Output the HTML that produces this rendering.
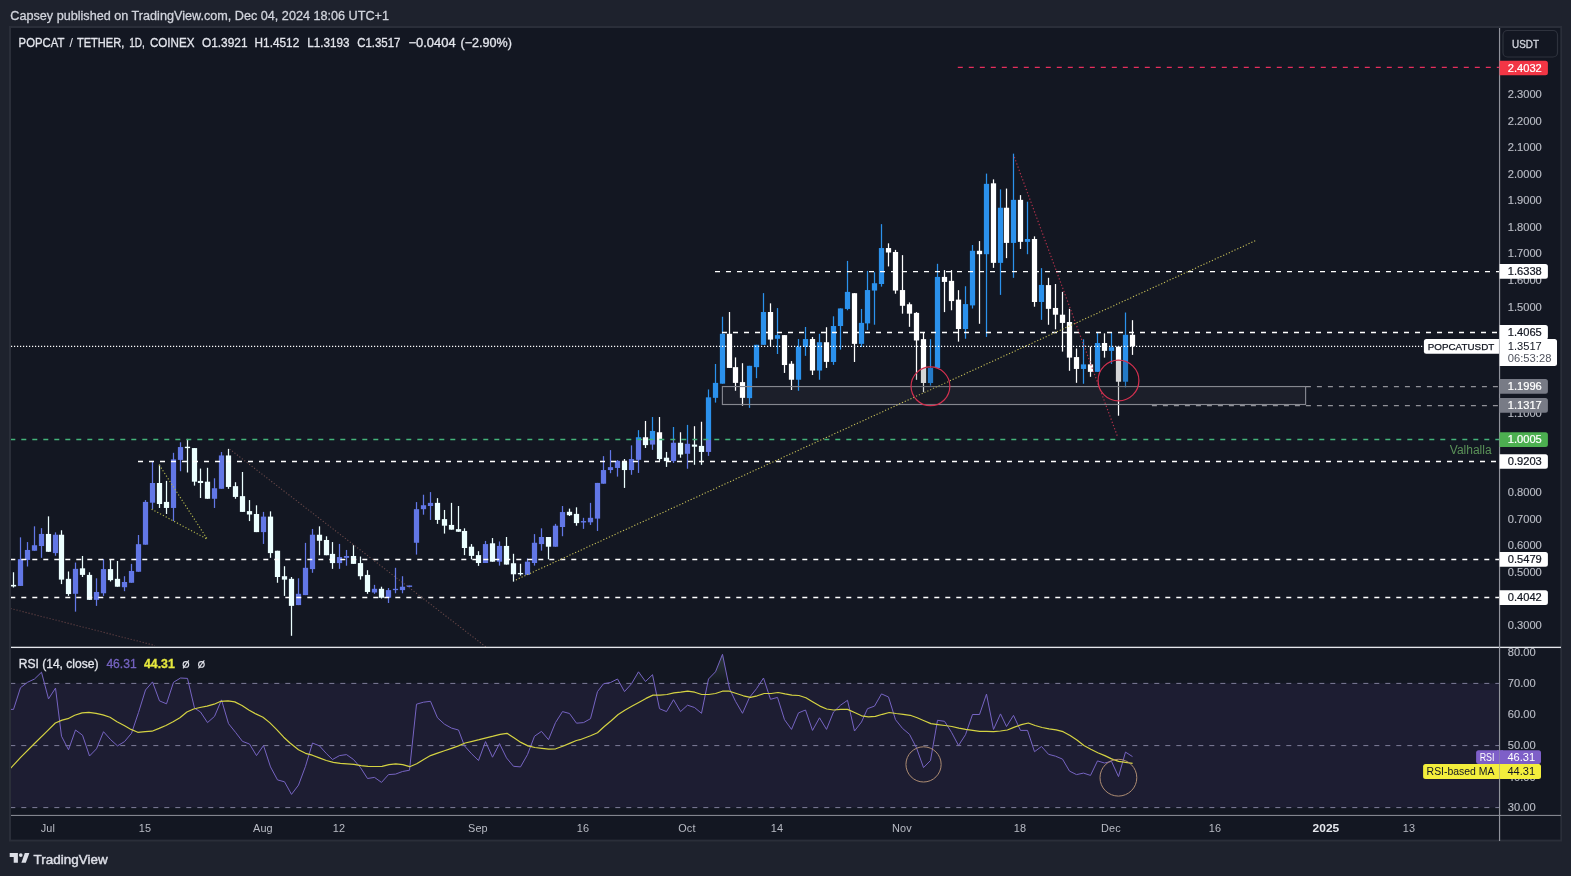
<!DOCTYPE html>
<html><head><meta charset="utf-8"><title>POPCAT / TETHER</title>
<style>html,body{margin:0;padding:0;background:#1e222d;}body{width:1571px;height:876px;overflow:hidden;}svg{display:block;font-family:"Liberation Sans",sans-serif;will-change:transform;}text{white-space:pre;}</style></head><body>
<svg width="1571" height="876" viewBox="0 0 1571 876">
<defs>
<clipPath id="cA"><rect x="11" y="28" width="1488" height="412.00"/></clipPath>
<clipPath id="cB"><rect x="11" y="440.00" width="1488" height="207.00"/></clipPath>
<clipPath id="cMain"><rect x="11" y="28" width="1488.5" height="619"/></clipPath>
<clipPath id="cRsi"><rect x="11" y="648" width="1488.5" height="167"/></clipPath>
</defs>
<rect x="0" y="0" width="1571" height="876" fill="#1e222d"/>
<rect x="9" y="26" width="1553" height="815.5" fill="#2a2e39"/>
<rect x="11" y="28" width="1549.3" height="811.6" fill="#131722"/>
<text x="10.3" y="20" font-size="12.3" fill="#d1d4dc" stroke="#d1d4dc" stroke-width="0.28" textLength="378.7" lengthAdjust="spacingAndGlyphs">Capsey published on TradingView.com, Dec 04, 2024 18:06 UTC+1</text>
<g clip-path="url(#cMain)">
<rect x="722.4" y="386.4" width="583.2" height="18.3" fill="#1c1f2a"/>
<g clip-path="url(#cA)">
<rect x="12.88" y="572.27" width="1.24" height="15.23" fill="#ffffff"/>
<rect x="10.88" y="584.87" width="5.24" height="1.58" fill="#ffffff"/>
<rect x="19.88" y="537.35" width="1.24" height="48.57" fill="#2b91ec"/>
<rect x="17.88" y="559.14" width="5.24" height="26.78" fill="#2b91ec"/>
<rect x="26.88" y="542.08" width="1.24" height="24.42" fill="#2b91ec"/>
<rect x="24.88" y="549.96" width="5.24" height="9.98" fill="#2b91ec"/>
<rect x="33.88" y="526.33" width="1.24" height="24.42" fill="#2b91ec"/>
<rect x="31.88" y="545.23" width="5.24" height="5.51" fill="#2b91ec"/>
<rect x="40.88" y="528.16" width="1.24" height="29.67" fill="#2b91ec"/>
<rect x="38.88" y="533.94" width="5.24" height="12.08" fill="#2b91ec"/>
<rect x="47.88" y="516.35" width="1.24" height="35.44" fill="#ffffff"/>
<rect x="45.88" y="533.94" width="5.24" height="17.85" fill="#ffffff"/>
<rect x="54.88" y="532.37" width="1.24" height="23.37" fill="#2b91ec"/>
<rect x="52.88" y="534.73" width="5.24" height="18.38" fill="#2b91ec"/>
<rect x="60.88" y="530.27" width="1.24" height="53.82" fill="#ffffff"/>
<rect x="58.88" y="534.73" width="5.24" height="44.89" fill="#ffffff"/>
<rect x="67.88" y="571.48" width="1.24" height="24.42" fill="#ffffff"/>
<rect x="65.88" y="578.83" width="5.24" height="15.23" fill="#ffffff"/>
<rect x="74.88" y="562.56" width="1.24" height="49.09" fill="#2b91ec"/>
<rect x="72.88" y="568.86" width="5.24" height="24.94" fill="#2b91ec"/>
<rect x="81.88" y="555.99" width="1.24" height="21.00" fill="#ffffff"/>
<rect x="79.88" y="568.33" width="5.24" height="6.56" fill="#ffffff"/>
<rect x="88.88" y="572.27" width="1.24" height="27.57" fill="#ffffff"/>
<rect x="86.88" y="574.90" width="5.24" height="24.94" fill="#ffffff"/>
<rect x="95.88" y="578.31" width="1.24" height="27.57" fill="#2b91ec"/>
<rect x="93.88" y="591.96" width="5.24" height="7.88" fill="#2b91ec"/>
<rect x="102.88" y="559.14" width="1.24" height="36.76" fill="#2b91ec"/>
<rect x="100.88" y="569.12" width="5.24" height="24.15" fill="#2b91ec"/>
<rect x="109.88" y="559.14" width="1.24" height="22.32" fill="#ffffff"/>
<rect x="107.88" y="569.12" width="5.24" height="11.03" fill="#ffffff"/>
<rect x="116.88" y="560.98" width="1.24" height="25.73" fill="#ffffff"/>
<rect x="114.88" y="578.83" width="5.24" height="7.88" fill="#ffffff"/>
<rect x="123.88" y="576.21" width="1.24" height="14.96" fill="#2b91ec"/>
<rect x="121.88" y="581.98" width="5.24" height="5.25" fill="#2b91ec"/>
<rect x="130.88" y="563.87" width="1.24" height="18.90" fill="#2b91ec"/>
<rect x="128.88" y="570.96" width="5.24" height="11.81" fill="#2b91ec"/>
<rect x="137.88" y="534.99" width="1.24" height="36.76" fill="#2b91ec"/>
<rect x="135.88" y="544.18" width="5.24" height="27.57" fill="#2b91ec"/>
<rect x="144.88" y="500.07" width="1.24" height="44.63" fill="#2b91ec"/>
<rect x="142.88" y="501.91" width="5.24" height="42.79" fill="#2b91ec"/>
<rect x="151.88" y="461.48" width="1.24" height="47.78" fill="#2b91ec"/>
<rect x="149.88" y="483.01" width="5.24" height="19.69" fill="#2b91ec"/>
<rect x="158.88" y="464.63" width="1.24" height="43.32" fill="#ffffff"/>
<rect x="156.88" y="483.01" width="5.24" height="21.00" fill="#ffffff"/>
<rect x="165.88" y="480.91" width="1.24" height="33.08" fill="#ffffff"/>
<rect x="163.88" y="501.91" width="5.24" height="6.04" fill="#ffffff"/>
<rect x="172.88" y="452.82" width="1.24" height="68.26" fill="#2b91ec"/>
<rect x="170.88" y="459.38" width="5.24" height="48.57" fill="#2b91ec"/>
<rect x="179.88" y="442.32" width="1.24" height="28.88" fill="#2b91ec"/>
<rect x="177.88" y="447.04" width="5.24" height="12.86" fill="#2b91ec"/>
<rect x="186.88" y="438.90" width="1.24" height="33.60" fill="#ffffff"/>
<rect x="184.88" y="446.74" width="5.24" height="1.40" fill="#ffffff"/>
<rect x="193.88" y="448.09" width="1.24" height="37.54" fill="#ffffff"/>
<rect x="191.88" y="448.09" width="5.24" height="33.60" fill="#ffffff"/>
<rect x="199.88" y="468.57" width="1.24" height="29.40" fill="#ffffff"/>
<rect x="197.88" y="480.91" width="5.24" height="2.10" fill="#ffffff"/>
<rect x="206.88" y="467.78" width="1.24" height="30.98" fill="#ffffff"/>
<rect x="204.88" y="481.70" width="5.24" height="17.06" fill="#ffffff"/>
<rect x="213.88" y="478.28" width="1.24" height="29.67" fill="#2b91ec"/>
<rect x="211.88" y="488.26" width="5.24" height="10.50" fill="#2b91ec"/>
<rect x="220.88" y="452.03" width="1.24" height="36.76" fill="#2b91ec"/>
<rect x="218.88" y="455.44" width="5.24" height="33.34" fill="#2b91ec"/>
<rect x="227.88" y="448.88" width="1.24" height="39.91" fill="#ffffff"/>
<rect x="225.88" y="455.44" width="5.24" height="31.50" fill="#ffffff"/>
<rect x="234.88" y="482.22" width="1.24" height="16.54" fill="#ffffff"/>
<rect x="232.88" y="486.16" width="5.24" height="10.76" fill="#ffffff"/>
<rect x="241.88" y="471.98" width="1.24" height="39.91" fill="#ffffff"/>
<rect x="239.88" y="496.14" width="5.24" height="15.75" fill="#ffffff"/>
<rect x="248.88" y="500.07" width="1.24" height="21.00" fill="#ffffff"/>
<rect x="246.88" y="511.10" width="5.24" height="3.41" fill="#ffffff"/>
<rect x="255.88" y="505.32" width="1.24" height="26.78" fill="#ffffff"/>
<rect x="253.88" y="513.99" width="5.24" height="18.11" fill="#ffffff"/>
<rect x="262.88" y="511.89" width="1.24" height="32.03" fill="#2b91ec"/>
<rect x="260.88" y="516.61" width="5.24" height="15.49" fill="#2b91ec"/>
<rect x="269.88" y="511.36" width="1.24" height="46.47" fill="#ffffff"/>
<rect x="267.88" y="516.61" width="5.24" height="36.49" fill="#ffffff"/>
<rect x="276.88" y="550.74" width="1.24" height="32.03" fill="#ffffff"/>
<rect x="274.88" y="550.74" width="5.24" height="26.25" fill="#ffffff"/>
<rect x="283.88" y="566.23" width="1.24" height="29.67" fill="#ffffff"/>
<rect x="281.88" y="576.21" width="5.24" height="3.41" fill="#ffffff"/>
<rect x="290.88" y="577.00" width="1.24" height="58.81" fill="#ffffff"/>
<rect x="288.88" y="578.83" width="5.24" height="27.04" fill="#ffffff"/>
<rect x="297.88" y="578.31" width="1.24" height="26.78" fill="#2b91ec"/>
<rect x="295.88" y="593.80" width="5.24" height="11.29" fill="#2b91ec"/>
<rect x="304.88" y="542.87" width="1.24" height="52.24" fill="#2b91ec"/>
<rect x="302.88" y="567.81" width="5.24" height="27.30" fill="#2b91ec"/>
<rect x="311.88" y="528.95" width="1.24" height="43.84" fill="#2b91ec"/>
<rect x="309.88" y="534.73" width="5.24" height="34.39" fill="#2b91ec"/>
<rect x="318.88" y="526.33" width="1.24" height="28.88" fill="#ffffff"/>
<rect x="316.88" y="534.73" width="5.24" height="6.04" fill="#ffffff"/>
<rect x="325.88" y="536.30" width="1.24" height="18.90" fill="#ffffff"/>
<rect x="323.88" y="539.98" width="5.24" height="15.23" fill="#ffffff"/>
<rect x="331.88" y="542.08" width="1.24" height="26.78" fill="#ffffff"/>
<rect x="329.88" y="553.89" width="5.24" height="9.19" fill="#ffffff"/>
<rect x="338.88" y="543.92" width="1.24" height="24.94" fill="#2b91ec"/>
<rect x="336.88" y="557.04" width="5.24" height="6.04" fill="#2b91ec"/>
<rect x="345.88" y="549.96" width="1.24" height="15.75" fill="#2b91ec"/>
<rect x="343.88" y="555.99" width="5.24" height="1.84" fill="#2b91ec"/>
<rect x="352.88" y="545.23" width="1.24" height="18.64" fill="#ffffff"/>
<rect x="350.88" y="555.99" width="5.24" height="7.88" fill="#ffffff"/>
<rect x="359.88" y="556.52" width="1.24" height="23.10" fill="#ffffff"/>
<rect x="357.88" y="563.08" width="5.24" height="13.13" fill="#ffffff"/>
<rect x="366.88" y="570.17" width="1.24" height="23.63" fill="#ffffff"/>
<rect x="364.88" y="574.90" width="5.24" height="17.06" fill="#ffffff"/>
<rect x="373.88" y="584.87" width="1.24" height="8.93" fill="#2b91ec"/>
<rect x="371.88" y="588.81" width="5.24" height="3.68" fill="#2b91ec"/>
<rect x="380.88" y="586.71" width="1.24" height="11.81" fill="#ffffff"/>
<rect x="378.88" y="588.81" width="5.24" height="8.93" fill="#ffffff"/>
<rect x="387.88" y="588.02" width="1.24" height="14.96" fill="#2b91ec"/>
<rect x="385.88" y="590.12" width="5.24" height="7.61" fill="#2b91ec"/>
<rect x="394.88" y="567.81" width="1.24" height="25.47" fill="#2b91ec"/>
<rect x="392.88" y="588.81" width="5.24" height="1.31" fill="#2b91ec"/>
<rect x="401.88" y="576.21" width="1.24" height="17.06" fill="#2b91ec"/>
<rect x="399.88" y="586.71" width="5.24" height="3.41" fill="#2b91ec"/>
<rect x="408.88" y="585.66" width="1.24" height="1.05" fill="#2b91ec"/>
<rect x="406.88" y="585.49" width="5.24" height="1.40" fill="#2b91ec"/>
<rect x="415.88" y="502.08" width="1.24" height="52.51" fill="#2b91ec"/>
<rect x="413.88" y="509.17" width="5.24" height="33.60" fill="#2b91ec"/>
<rect x="422.88" y="494.73" width="1.24" height="19.95" fill="#2b91ec"/>
<rect x="420.88" y="505.23" width="5.24" height="3.94" fill="#2b91ec"/>
<rect x="429.88" y="492.10" width="1.24" height="27.83" fill="#2b91ec"/>
<rect x="427.88" y="502.87" width="5.24" height="3.15" fill="#2b91ec"/>
<rect x="436.88" y="498.14" width="1.24" height="25.73" fill="#ffffff"/>
<rect x="434.88" y="502.87" width="5.24" height="17.06" fill="#ffffff"/>
<rect x="443.88" y="509.96" width="1.24" height="23.63" fill="#ffffff"/>
<rect x="441.88" y="519.14" width="5.24" height="6.56" fill="#ffffff"/>
<rect x="450.88" y="502.87" width="1.24" height="26.78" fill="#ffffff"/>
<rect x="448.88" y="524.92" width="5.24" height="4.73" fill="#ffffff"/>
<rect x="457.88" y="506.02" width="1.24" height="25.73" fill="#ffffff"/>
<rect x="455.88" y="529.12" width="5.24" height="2.63" fill="#ffffff"/>
<rect x="463.88" y="528.33" width="1.24" height="26.78" fill="#ffffff"/>
<rect x="461.88" y="530.96" width="5.24" height="17.06" fill="#ffffff"/>
<rect x="470.88" y="544.09" width="1.24" height="15.23" fill="#ffffff"/>
<rect x="468.88" y="546.71" width="5.24" height="9.19" fill="#ffffff"/>
<rect x="477.88" y="551.17" width="1.24" height="14.70" fill="#ffffff"/>
<rect x="475.88" y="555.11" width="5.24" height="7.88" fill="#ffffff"/>
<rect x="484.88" y="540.93" width="1.24" height="22.05" fill="#2b91ec"/>
<rect x="482.88" y="544.09" width="5.24" height="18.90" fill="#2b91ec"/>
<rect x="491.88" y="538.05" width="1.24" height="23.63" fill="#ffffff"/>
<rect x="489.88" y="543.30" width="5.24" height="18.38" fill="#ffffff"/>
<rect x="498.88" y="541.46" width="1.24" height="24.15" fill="#2b91ec"/>
<rect x="496.88" y="545.92" width="5.24" height="15.75" fill="#2b91ec"/>
<rect x="505.88" y="537.00" width="1.24" height="27.57" fill="#ffffff"/>
<rect x="503.88" y="545.92" width="5.24" height="18.64" fill="#ffffff"/>
<rect x="512.88" y="553.80" width="1.24" height="27.83" fill="#ffffff"/>
<rect x="510.88" y="563.25" width="5.24" height="11.03" fill="#ffffff"/>
<rect x="519.88" y="563.78" width="1.24" height="11.81" fill="#ffffff"/>
<rect x="517.88" y="572.96" width="5.24" height="1.31" fill="#ffffff"/>
<rect x="526.88" y="558.52" width="1.24" height="16.28" fill="#2b91ec"/>
<rect x="524.88" y="561.67" width="5.24" height="13.13" fill="#2b91ec"/>
<rect x="533.88" y="534.11" width="1.24" height="31.50" fill="#2b91ec"/>
<rect x="531.88" y="542.77" width="5.24" height="20.22" fill="#2b91ec"/>
<rect x="540.88" y="528.33" width="1.24" height="22.32" fill="#2b91ec"/>
<rect x="538.88" y="537.00" width="5.24" height="7.09" fill="#2b91ec"/>
<rect x="547.88" y="537.00" width="1.24" height="22.32" fill="#ffffff"/>
<rect x="545.88" y="537.00" width="5.24" height="9.71" fill="#ffffff"/>
<rect x="554.88" y="523.87" width="1.24" height="22.84" fill="#2b91ec"/>
<rect x="552.88" y="525.71" width="5.24" height="21.00" fill="#2b91ec"/>
<rect x="561.88" y="506.02" width="1.24" height="30.19" fill="#2b91ec"/>
<rect x="559.88" y="512.06" width="5.24" height="14.96" fill="#2b91ec"/>
<rect x="568.88" y="508.64" width="1.24" height="7.35" fill="#ffffff"/>
<rect x="566.88" y="511.79" width="5.24" height="3.41" fill="#ffffff"/>
<rect x="575.88" y="507.33" width="1.24" height="18.38" fill="#ffffff"/>
<rect x="573.88" y="513.89" width="5.24" height="9.19" fill="#ffffff"/>
<rect x="582.88" y="517.83" width="1.24" height="11.03" fill="#2b91ec"/>
<rect x="580.88" y="521.07" width="5.24" height="1.40" fill="#2b91ec"/>
<rect x="589.88" y="502.87" width="1.24" height="22.05" fill="#2b91ec"/>
<rect x="587.88" y="517.83" width="5.24" height="4.46" fill="#2b91ec"/>
<rect x="596.88" y="482.91" width="1.24" height="48.04" fill="#2b91ec"/>
<rect x="594.88" y="482.91" width="5.24" height="35.70" fill="#2b91ec"/>
<rect x="602.88" y="456.14" width="1.24" height="27.57" fill="#2b91ec"/>
<rect x="600.88" y="470.05" width="5.24" height="13.65" fill="#2b91ec"/>
<rect x="609.88" y="450.10" width="1.24" height="23.10" fill="#2b91ec"/>
<rect x="607.88" y="467.16" width="5.24" height="2.89" fill="#2b91ec"/>
<rect x="616.88" y="460.07" width="1.24" height="16.54" fill="#2b91ec"/>
<rect x="614.88" y="460.86" width="5.24" height="7.09" fill="#2b91ec"/>
<rect x="623.88" y="459.03" width="1.24" height="28.88" fill="#ffffff"/>
<rect x="621.88" y="461.65" width="5.24" height="8.40" fill="#ffffff"/>
<rect x="630.88" y="445.37" width="1.24" height="29.40" fill="#2b91ec"/>
<rect x="628.88" y="459.03" width="5.24" height="11.03" fill="#2b91ec"/>
<rect x="637.88" y="430.15" width="1.24" height="42.79" fill="#2b91ec"/>
<rect x="635.88" y="437.24" width="5.24" height="22.58" fill="#2b91ec"/>
<rect x="644.88" y="420.96" width="1.24" height="27.04" fill="#ffffff"/>
<rect x="642.88" y="437.24" width="5.24" height="7.88" fill="#ffffff"/>
<rect x="651.88" y="417.02" width="1.24" height="32.82" fill="#2b91ec"/>
<rect x="649.88" y="430.93" width="5.24" height="13.65" fill="#2b91ec"/>
<rect x="658.88" y="417.02" width="1.24" height="43.84" fill="#ffffff"/>
<rect x="656.88" y="432.25" width="5.24" height="26.78" fill="#ffffff"/>
<rect x="665.88" y="451.94" width="1.24" height="14.96" fill="#ffffff"/>
<rect x="663.88" y="457.71" width="5.24" height="3.41" fill="#ffffff"/>
<rect x="672.88" y="427.00" width="1.24" height="35.97" fill="#2b91ec"/>
<rect x="670.88" y="442.75" width="5.24" height="18.38" fill="#2b91ec"/>
<rect x="679.88" y="432.25" width="1.24" height="25.47" fill="#ffffff"/>
<rect x="677.88" y="442.75" width="5.24" height="11.81" fill="#ffffff"/>
<rect x="686.88" y="424.90" width="1.24" height="43.84" fill="#2b91ec"/>
<rect x="684.88" y="443.80" width="5.24" height="9.98" fill="#2b91ec"/>
<rect x="693.88" y="426.21" width="1.24" height="38.59" fill="#ffffff"/>
<rect x="691.88" y="444.59" width="5.24" height="2.10" fill="#ffffff"/>
<rect x="700.88" y="421.75" width="1.24" height="43.06" fill="#ffffff"/>
<rect x="698.88" y="445.90" width="5.24" height="6.04" fill="#ffffff"/>
<rect x="707.88" y="389.45" width="1.24" height="66.42" fill="#2b91ec"/>
<rect x="705.88" y="397.33" width="5.24" height="54.61" fill="#2b91ec"/>
<rect x="714.88" y="363.99" width="1.24" height="38.59" fill="#2b91ec"/>
<rect x="712.88" y="382.89" width="5.24" height="14.96" fill="#2b91ec"/>
<rect x="721.88" y="316.73" width="1.24" height="66.95" fill="#2b91ec"/>
<rect x="719.88" y="333.80" width="5.24" height="49.88" fill="#2b91ec"/>
<rect x="728.88" y="312.01" width="1.24" height="55.92" fill="#ffffff"/>
<rect x="726.88" y="333.80" width="5.24" height="34.13" fill="#ffffff"/>
<rect x="734.88" y="357.42" width="1.24" height="33.34" fill="#ffffff"/>
<rect x="732.88" y="367.14" width="5.24" height="15.75" fill="#ffffff"/>
<rect x="741.88" y="363.20" width="1.24" height="42.53" fill="#ffffff"/>
<rect x="739.88" y="382.10" width="5.24" height="15.75" fill="#ffffff"/>
<rect x="748.88" y="365.83" width="1.24" height="42.01" fill="#2b91ec"/>
<rect x="746.88" y="365.83" width="5.24" height="32.29" fill="#2b91ec"/>
<rect x="755.88" y="344.82" width="1.24" height="33.34" fill="#2b91ec"/>
<rect x="753.88" y="344.82" width="5.24" height="22.32" fill="#2b91ec"/>
<rect x="762.88" y="293.10" width="1.24" height="51.72" fill="#2b91ec"/>
<rect x="760.88" y="312.01" width="5.24" height="32.82" fill="#2b91ec"/>
<rect x="769.88" y="303.34" width="1.24" height="42.79" fill="#ffffff"/>
<rect x="767.88" y="312.01" width="5.24" height="27.57" fill="#ffffff"/>
<rect x="776.88" y="308.07" width="1.24" height="45.94" fill="#2b91ec"/>
<rect x="774.88" y="335.11" width="5.24" height="3.68" fill="#2b91ec"/>
<rect x="783.88" y="335.11" width="1.24" height="37.81" fill="#ffffff"/>
<rect x="781.88" y="335.11" width="5.24" height="29.93" fill="#ffffff"/>
<rect x="790.88" y="361.10" width="1.24" height="28.88" fill="#ffffff"/>
<rect x="788.88" y="363.73" width="5.24" height="16.01" fill="#ffffff"/>
<rect x="797.88" y="339.05" width="1.24" height="51.72" fill="#2b91ec"/>
<rect x="795.88" y="346.66" width="5.24" height="33.08" fill="#2b91ec"/>
<rect x="804.88" y="326.97" width="1.24" height="28.88" fill="#2b91ec"/>
<rect x="802.88" y="339.05" width="5.24" height="7.88" fill="#2b91ec"/>
<rect x="811.88" y="336.95" width="1.24" height="38.07" fill="#ffffff"/>
<rect x="809.88" y="339.05" width="5.24" height="31.50" fill="#ffffff"/>
<rect x="818.88" y="333.80" width="1.24" height="45.94" fill="#2b91ec"/>
<rect x="816.88" y="342.20" width="5.24" height="28.35" fill="#2b91ec"/>
<rect x="825.88" y="327.23" width="1.24" height="40.69" fill="#ffffff"/>
<rect x="823.88" y="342.20" width="5.24" height="19.69" fill="#ffffff"/>
<rect x="832.88" y="316.30" width="1.24" height="48.57" fill="#2b91ec"/>
<rect x="830.88" y="326.02" width="5.24" height="35.97" fill="#2b91ec"/>
<rect x="839.88" y="308.43" width="1.24" height="41.22" fill="#2b91ec"/>
<rect x="837.88" y="308.43" width="5.24" height="17.59" fill="#2b91ec"/>
<rect x="846.88" y="260.91" width="1.24" height="49.36" fill="#2b91ec"/>
<rect x="844.88" y="291.89" width="5.24" height="17.06" fill="#2b91ec"/>
<rect x="853.88" y="293.20" width="1.24" height="68.78" fill="#ffffff"/>
<rect x="851.88" y="293.20" width="5.24" height="50.67" fill="#ffffff"/>
<rect x="860.88" y="308.95" width="1.24" height="38.07" fill="#2b91ec"/>
<rect x="858.88" y="322.87" width="5.24" height="21.00" fill="#2b91ec"/>
<rect x="866.88" y="270.88" width="1.24" height="59.07" fill="#2b91ec"/>
<rect x="864.88" y="290.05" width="5.24" height="33.34" fill="#2b91ec"/>
<rect x="873.88" y="272.20" width="1.24" height="52.51" fill="#2b91ec"/>
<rect x="871.88" y="283.22" width="5.24" height="7.35" fill="#2b91ec"/>
<rect x="880.88" y="224.15" width="1.24" height="62.48" fill="#2b91ec"/>
<rect x="878.88" y="248.04" width="5.24" height="35.97" fill="#2b91ec"/>
<rect x="887.88" y="243.32" width="1.24" height="23.10" fill="#ffffff"/>
<rect x="885.88" y="248.04" width="5.24" height="4.46" fill="#ffffff"/>
<rect x="894.88" y="249.88" width="1.24" height="43.84" fill="#ffffff"/>
<rect x="892.88" y="251.98" width="5.24" height="38.59" fill="#ffffff"/>
<rect x="901.88" y="255.13" width="1.24" height="58.55" fill="#ffffff"/>
<rect x="899.88" y="290.05" width="5.24" height="15.75" fill="#ffffff"/>
<rect x="908.88" y="302.39" width="1.24" height="24.42" fill="#ffffff"/>
<rect x="906.88" y="304.23" width="5.24" height="9.45" fill="#ffffff"/>
<rect x="915.88" y="312.10" width="1.24" height="67.73" fill="#ffffff"/>
<rect x="913.88" y="312.89" width="5.24" height="27.57" fill="#ffffff"/>
<rect x="922.88" y="332.58" width="1.24" height="59.60" fill="#ffffff"/>
<rect x="920.88" y="339.14" width="5.24" height="43.84" fill="#ffffff"/>
<rect x="929.88" y="339.14" width="1.24" height="46.47" fill="#2b91ec"/>
<rect x="927.88" y="368.02" width="5.24" height="14.96" fill="#2b91ec"/>
<rect x="936.88" y="263.80" width="1.24" height="104.23" fill="#2b91ec"/>
<rect x="934.88" y="276.92" width="5.24" height="91.10" fill="#2b91ec"/>
<rect x="943.88" y="270.10" width="1.24" height="42.01" fill="#ffffff"/>
<rect x="941.88" y="276.92" width="5.24" height="4.99" fill="#ffffff"/>
<rect x="950.88" y="270.10" width="1.24" height="40.17" fill="#ffffff"/>
<rect x="948.88" y="280.86" width="5.24" height="20.22" fill="#ffffff"/>
<rect x="957.88" y="290.17" width="1.24" height="51.46" fill="#ffffff"/>
<rect x="955.88" y="299.62" width="5.24" height="29.40" fill="#ffffff"/>
<rect x="964.88" y="286.23" width="1.24" height="52.51" fill="#2b91ec"/>
<rect x="962.88" y="304.09" width="5.24" height="24.94" fill="#2b91ec"/>
<rect x="971.88" y="245.01" width="1.24" height="63.53" fill="#2b91ec"/>
<rect x="969.88" y="250.79" width="5.24" height="54.61" fill="#2b91ec"/>
<rect x="978.88" y="241.08" width="1.24" height="82.70" fill="#ffffff"/>
<rect x="976.88" y="250.79" width="5.24" height="3.41" fill="#ffffff"/>
<rect x="985.88" y="173.60" width="1.24" height="163.30" fill="#2b91ec"/>
<rect x="983.88" y="183.84" width="5.24" height="70.36" fill="#2b91ec"/>
<rect x="992.88" y="179.38" width="1.24" height="88.47" fill="#ffffff"/>
<rect x="990.88" y="183.32" width="5.24" height="79.55" fill="#ffffff"/>
<rect x="999.88" y="189.36" width="1.24" height="105.54" fill="#2b91ec"/>
<rect x="997.88" y="207.73" width="5.24" height="55.13" fill="#2b91ec"/>
<rect x="1005.88" y="188.57" width="1.24" height="69.57" fill="#ffffff"/>
<rect x="1003.88" y="207.73" width="5.24" height="35.18" fill="#ffffff"/>
<rect x="1012.88" y="153.65" width="1.24" height="124.18" fill="#2b91ec"/>
<rect x="1010.88" y="199.86" width="5.24" height="43.06" fill="#2b91ec"/>
<rect x="1019.88" y="195.13" width="1.24" height="53.82" fill="#ffffff"/>
<rect x="1017.88" y="199.86" width="5.24" height="42.01" fill="#ffffff"/>
<rect x="1026.88" y="201.70" width="1.24" height="52.51" fill="#2b91ec"/>
<rect x="1024.88" y="238.98" width="5.24" height="2.89" fill="#2b91ec"/>
<rect x="1033.88" y="236.35" width="1.24" height="70.36" fill="#ffffff"/>
<rect x="1031.88" y="238.98" width="5.24" height="63.01" fill="#ffffff"/>
<rect x="1040.88" y="268.12" width="1.24" height="51.72" fill="#2b91ec"/>
<rect x="1038.88" y="284.92" width="5.24" height="17.06" fill="#2b91ec"/>
<rect x="1047.88" y="277.81" width="1.24" height="46.94" fill="#ffffff"/>
<rect x="1045.88" y="285.11" width="5.24" height="23.74" fill="#ffffff"/>
<rect x="1054.88" y="284.02" width="1.24" height="45.30" fill="#ffffff"/>
<rect x="1052.88" y="307.95" width="5.24" height="6.76" fill="#ffffff"/>
<rect x="1061.88" y="291.87" width="1.24" height="59.73" fill="#ffffff"/>
<rect x="1059.88" y="314.70" width="5.24" height="8.22" fill="#ffffff"/>
<rect x="1068.88" y="308.86" width="1.24" height="61.92" fill="#ffffff"/>
<rect x="1066.88" y="322.01" width="5.24" height="35.62" fill="#ffffff"/>
<rect x="1075.88" y="348.49" width="1.24" height="34.34" fill="#ffffff"/>
<rect x="1073.88" y="357.08" width="5.24" height="11.87" fill="#ffffff"/>
<rect x="1082.88" y="339.36" width="1.24" height="44.38" fill="#2b91ec"/>
<rect x="1080.88" y="364.38" width="5.24" height="4.57" fill="#2b91ec"/>
<rect x="1089.88" y="346.67" width="1.24" height="30.14" fill="#ffffff"/>
<rect x="1087.88" y="364.38" width="5.24" height="7.49" fill="#ffffff"/>
<rect x="1096.88" y="332.97" width="1.24" height="38.90" fill="#2b91ec"/>
<rect x="1094.88" y="343.01" width="5.24" height="28.86" fill="#2b91ec"/>
<rect x="1103.88" y="333.33" width="1.24" height="24.29" fill="#ffffff"/>
<rect x="1101.88" y="343.01" width="5.24" height="7.85" fill="#ffffff"/>
<rect x="1110.88" y="332.05" width="1.24" height="31.96" fill="#2b91ec"/>
<rect x="1108.88" y="347.21" width="5.24" height="3.65" fill="#2b91ec"/>
<rect x="1117.88" y="346.67" width="1.24" height="69.04" fill="#ffffff"/>
<rect x="1115.88" y="346.67" width="5.24" height="35.07" fill="#ffffff"/>
<rect x="1124.88" y="312.51" width="1.24" height="74.89" fill="#2b91ec"/>
<rect x="1122.88" y="334.79" width="5.24" height="46.94" fill="#2b91ec"/>
<rect x="1131.88" y="320.18" width="1.24" height="34.70" fill="#ffffff"/>
<rect x="1129.88" y="334.79" width="5.24" height="11.51" fill="#ffffff"/>
</g>
<g clip-path="url(#cB)">
<rect x="12.88" y="572.27" width="1.24" height="15.23" fill="#ecffff"/>
<rect x="10.88" y="584.87" width="5.24" height="1.58" fill="#ecffff"/>
<rect x="19.88" y="537.35" width="1.24" height="48.57" fill="#6277e6"/>
<rect x="17.88" y="559.14" width="5.24" height="26.78" fill="#6277e6"/>
<rect x="26.88" y="542.08" width="1.24" height="24.42" fill="#6277e6"/>
<rect x="24.88" y="549.96" width="5.24" height="9.98" fill="#6277e6"/>
<rect x="33.88" y="526.33" width="1.24" height="24.42" fill="#6277e6"/>
<rect x="31.88" y="545.23" width="5.24" height="5.51" fill="#6277e6"/>
<rect x="40.88" y="528.16" width="1.24" height="29.67" fill="#6277e6"/>
<rect x="38.88" y="533.94" width="5.24" height="12.08" fill="#6277e6"/>
<rect x="47.88" y="516.35" width="1.24" height="35.44" fill="#ecffff"/>
<rect x="45.88" y="533.94" width="5.24" height="17.85" fill="#ecffff"/>
<rect x="54.88" y="532.37" width="1.24" height="23.37" fill="#6277e6"/>
<rect x="52.88" y="534.73" width="5.24" height="18.38" fill="#6277e6"/>
<rect x="60.88" y="530.27" width="1.24" height="53.82" fill="#ecffff"/>
<rect x="58.88" y="534.73" width="5.24" height="44.89" fill="#ecffff"/>
<rect x="67.88" y="571.48" width="1.24" height="24.42" fill="#ecffff"/>
<rect x="65.88" y="578.83" width="5.24" height="15.23" fill="#ecffff"/>
<rect x="74.88" y="562.56" width="1.24" height="49.09" fill="#6277e6"/>
<rect x="72.88" y="568.86" width="5.24" height="24.94" fill="#6277e6"/>
<rect x="81.88" y="555.99" width="1.24" height="21.00" fill="#ecffff"/>
<rect x="79.88" y="568.33" width="5.24" height="6.56" fill="#ecffff"/>
<rect x="88.88" y="572.27" width="1.24" height="27.57" fill="#ecffff"/>
<rect x="86.88" y="574.90" width="5.24" height="24.94" fill="#ecffff"/>
<rect x="95.88" y="578.31" width="1.24" height="27.57" fill="#6277e6"/>
<rect x="93.88" y="591.96" width="5.24" height="7.88" fill="#6277e6"/>
<rect x="102.88" y="559.14" width="1.24" height="36.76" fill="#6277e6"/>
<rect x="100.88" y="569.12" width="5.24" height="24.15" fill="#6277e6"/>
<rect x="109.88" y="559.14" width="1.24" height="22.32" fill="#ecffff"/>
<rect x="107.88" y="569.12" width="5.24" height="11.03" fill="#ecffff"/>
<rect x="116.88" y="560.98" width="1.24" height="25.73" fill="#ecffff"/>
<rect x="114.88" y="578.83" width="5.24" height="7.88" fill="#ecffff"/>
<rect x="123.88" y="576.21" width="1.24" height="14.96" fill="#6277e6"/>
<rect x="121.88" y="581.98" width="5.24" height="5.25" fill="#6277e6"/>
<rect x="130.88" y="563.87" width="1.24" height="18.90" fill="#6277e6"/>
<rect x="128.88" y="570.96" width="5.24" height="11.81" fill="#6277e6"/>
<rect x="137.88" y="534.99" width="1.24" height="36.76" fill="#6277e6"/>
<rect x="135.88" y="544.18" width="5.24" height="27.57" fill="#6277e6"/>
<rect x="144.88" y="500.07" width="1.24" height="44.63" fill="#6277e6"/>
<rect x="142.88" y="501.91" width="5.24" height="42.79" fill="#6277e6"/>
<rect x="151.88" y="461.48" width="1.24" height="47.78" fill="#6277e6"/>
<rect x="149.88" y="483.01" width="5.24" height="19.69" fill="#6277e6"/>
<rect x="158.88" y="464.63" width="1.24" height="43.32" fill="#ecffff"/>
<rect x="156.88" y="483.01" width="5.24" height="21.00" fill="#ecffff"/>
<rect x="165.88" y="480.91" width="1.24" height="33.08" fill="#ecffff"/>
<rect x="163.88" y="501.91" width="5.24" height="6.04" fill="#ecffff"/>
<rect x="172.88" y="452.82" width="1.24" height="68.26" fill="#6277e6"/>
<rect x="170.88" y="459.38" width="5.24" height="48.57" fill="#6277e6"/>
<rect x="179.88" y="442.32" width="1.24" height="28.88" fill="#6277e6"/>
<rect x="177.88" y="447.04" width="5.24" height="12.86" fill="#6277e6"/>
<rect x="186.88" y="438.90" width="1.24" height="33.60" fill="#ecffff"/>
<rect x="184.88" y="446.74" width="5.24" height="1.40" fill="#ecffff"/>
<rect x="193.88" y="448.09" width="1.24" height="37.54" fill="#ecffff"/>
<rect x="191.88" y="448.09" width="5.24" height="33.60" fill="#ecffff"/>
<rect x="199.88" y="468.57" width="1.24" height="29.40" fill="#ecffff"/>
<rect x="197.88" y="480.91" width="5.24" height="2.10" fill="#ecffff"/>
<rect x="206.88" y="467.78" width="1.24" height="30.98" fill="#ecffff"/>
<rect x="204.88" y="481.70" width="5.24" height="17.06" fill="#ecffff"/>
<rect x="213.88" y="478.28" width="1.24" height="29.67" fill="#6277e6"/>
<rect x="211.88" y="488.26" width="5.24" height="10.50" fill="#6277e6"/>
<rect x="220.88" y="452.03" width="1.24" height="36.76" fill="#6277e6"/>
<rect x="218.88" y="455.44" width="5.24" height="33.34" fill="#6277e6"/>
<rect x="227.88" y="448.88" width="1.24" height="39.91" fill="#ecffff"/>
<rect x="225.88" y="455.44" width="5.24" height="31.50" fill="#ecffff"/>
<rect x="234.88" y="482.22" width="1.24" height="16.54" fill="#ecffff"/>
<rect x="232.88" y="486.16" width="5.24" height="10.76" fill="#ecffff"/>
<rect x="241.88" y="471.98" width="1.24" height="39.91" fill="#ecffff"/>
<rect x="239.88" y="496.14" width="5.24" height="15.75" fill="#ecffff"/>
<rect x="248.88" y="500.07" width="1.24" height="21.00" fill="#ecffff"/>
<rect x="246.88" y="511.10" width="5.24" height="3.41" fill="#ecffff"/>
<rect x="255.88" y="505.32" width="1.24" height="26.78" fill="#ecffff"/>
<rect x="253.88" y="513.99" width="5.24" height="18.11" fill="#ecffff"/>
<rect x="262.88" y="511.89" width="1.24" height="32.03" fill="#6277e6"/>
<rect x="260.88" y="516.61" width="5.24" height="15.49" fill="#6277e6"/>
<rect x="269.88" y="511.36" width="1.24" height="46.47" fill="#ecffff"/>
<rect x="267.88" y="516.61" width="5.24" height="36.49" fill="#ecffff"/>
<rect x="276.88" y="550.74" width="1.24" height="32.03" fill="#ecffff"/>
<rect x="274.88" y="550.74" width="5.24" height="26.25" fill="#ecffff"/>
<rect x="283.88" y="566.23" width="1.24" height="29.67" fill="#ecffff"/>
<rect x="281.88" y="576.21" width="5.24" height="3.41" fill="#ecffff"/>
<rect x="290.88" y="577.00" width="1.24" height="58.81" fill="#ecffff"/>
<rect x="288.88" y="578.83" width="5.24" height="27.04" fill="#ecffff"/>
<rect x="297.88" y="578.31" width="1.24" height="26.78" fill="#6277e6"/>
<rect x="295.88" y="593.80" width="5.24" height="11.29" fill="#6277e6"/>
<rect x="304.88" y="542.87" width="1.24" height="52.24" fill="#6277e6"/>
<rect x="302.88" y="567.81" width="5.24" height="27.30" fill="#6277e6"/>
<rect x="311.88" y="528.95" width="1.24" height="43.84" fill="#6277e6"/>
<rect x="309.88" y="534.73" width="5.24" height="34.39" fill="#6277e6"/>
<rect x="318.88" y="526.33" width="1.24" height="28.88" fill="#ecffff"/>
<rect x="316.88" y="534.73" width="5.24" height="6.04" fill="#ecffff"/>
<rect x="325.88" y="536.30" width="1.24" height="18.90" fill="#ecffff"/>
<rect x="323.88" y="539.98" width="5.24" height="15.23" fill="#ecffff"/>
<rect x="331.88" y="542.08" width="1.24" height="26.78" fill="#ecffff"/>
<rect x="329.88" y="553.89" width="5.24" height="9.19" fill="#ecffff"/>
<rect x="338.88" y="543.92" width="1.24" height="24.94" fill="#6277e6"/>
<rect x="336.88" y="557.04" width="5.24" height="6.04" fill="#6277e6"/>
<rect x="345.88" y="549.96" width="1.24" height="15.75" fill="#6277e6"/>
<rect x="343.88" y="555.99" width="5.24" height="1.84" fill="#6277e6"/>
<rect x="352.88" y="545.23" width="1.24" height="18.64" fill="#ecffff"/>
<rect x="350.88" y="555.99" width="5.24" height="7.88" fill="#ecffff"/>
<rect x="359.88" y="556.52" width="1.24" height="23.10" fill="#ecffff"/>
<rect x="357.88" y="563.08" width="5.24" height="13.13" fill="#ecffff"/>
<rect x="366.88" y="570.17" width="1.24" height="23.63" fill="#ecffff"/>
<rect x="364.88" y="574.90" width="5.24" height="17.06" fill="#ecffff"/>
<rect x="373.88" y="584.87" width="1.24" height="8.93" fill="#6277e6"/>
<rect x="371.88" y="588.81" width="5.24" height="3.68" fill="#6277e6"/>
<rect x="380.88" y="586.71" width="1.24" height="11.81" fill="#ecffff"/>
<rect x="378.88" y="588.81" width="5.24" height="8.93" fill="#ecffff"/>
<rect x="387.88" y="588.02" width="1.24" height="14.96" fill="#6277e6"/>
<rect x="385.88" y="590.12" width="5.24" height="7.61" fill="#6277e6"/>
<rect x="394.88" y="567.81" width="1.24" height="25.47" fill="#6277e6"/>
<rect x="392.88" y="588.81" width="5.24" height="1.31" fill="#6277e6"/>
<rect x="401.88" y="576.21" width="1.24" height="17.06" fill="#6277e6"/>
<rect x="399.88" y="586.71" width="5.24" height="3.41" fill="#6277e6"/>
<rect x="408.88" y="585.66" width="1.24" height="1.05" fill="#6277e6"/>
<rect x="406.88" y="585.49" width="5.24" height="1.40" fill="#6277e6"/>
<rect x="415.88" y="502.08" width="1.24" height="52.51" fill="#6277e6"/>
<rect x="413.88" y="509.17" width="5.24" height="33.60" fill="#6277e6"/>
<rect x="422.88" y="494.73" width="1.24" height="19.95" fill="#6277e6"/>
<rect x="420.88" y="505.23" width="5.24" height="3.94" fill="#6277e6"/>
<rect x="429.88" y="492.10" width="1.24" height="27.83" fill="#6277e6"/>
<rect x="427.88" y="502.87" width="5.24" height="3.15" fill="#6277e6"/>
<rect x="436.88" y="498.14" width="1.24" height="25.73" fill="#ecffff"/>
<rect x="434.88" y="502.87" width="5.24" height="17.06" fill="#ecffff"/>
<rect x="443.88" y="509.96" width="1.24" height="23.63" fill="#ecffff"/>
<rect x="441.88" y="519.14" width="5.24" height="6.56" fill="#ecffff"/>
<rect x="450.88" y="502.87" width="1.24" height="26.78" fill="#ecffff"/>
<rect x="448.88" y="524.92" width="5.24" height="4.73" fill="#ecffff"/>
<rect x="457.88" y="506.02" width="1.24" height="25.73" fill="#ecffff"/>
<rect x="455.88" y="529.12" width="5.24" height="2.63" fill="#ecffff"/>
<rect x="463.88" y="528.33" width="1.24" height="26.78" fill="#ecffff"/>
<rect x="461.88" y="530.96" width="5.24" height="17.06" fill="#ecffff"/>
<rect x="470.88" y="544.09" width="1.24" height="15.23" fill="#ecffff"/>
<rect x="468.88" y="546.71" width="5.24" height="9.19" fill="#ecffff"/>
<rect x="477.88" y="551.17" width="1.24" height="14.70" fill="#ecffff"/>
<rect x="475.88" y="555.11" width="5.24" height="7.88" fill="#ecffff"/>
<rect x="484.88" y="540.93" width="1.24" height="22.05" fill="#6277e6"/>
<rect x="482.88" y="544.09" width="5.24" height="18.90" fill="#6277e6"/>
<rect x="491.88" y="538.05" width="1.24" height="23.63" fill="#ecffff"/>
<rect x="489.88" y="543.30" width="5.24" height="18.38" fill="#ecffff"/>
<rect x="498.88" y="541.46" width="1.24" height="24.15" fill="#6277e6"/>
<rect x="496.88" y="545.92" width="5.24" height="15.75" fill="#6277e6"/>
<rect x="505.88" y="537.00" width="1.24" height="27.57" fill="#ecffff"/>
<rect x="503.88" y="545.92" width="5.24" height="18.64" fill="#ecffff"/>
<rect x="512.88" y="553.80" width="1.24" height="27.83" fill="#ecffff"/>
<rect x="510.88" y="563.25" width="5.24" height="11.03" fill="#ecffff"/>
<rect x="519.88" y="563.78" width="1.24" height="11.81" fill="#ecffff"/>
<rect x="517.88" y="572.96" width="5.24" height="1.31" fill="#ecffff"/>
<rect x="526.88" y="558.52" width="1.24" height="16.28" fill="#6277e6"/>
<rect x="524.88" y="561.67" width="5.24" height="13.13" fill="#6277e6"/>
<rect x="533.88" y="534.11" width="1.24" height="31.50" fill="#6277e6"/>
<rect x="531.88" y="542.77" width="5.24" height="20.22" fill="#6277e6"/>
<rect x="540.88" y="528.33" width="1.24" height="22.32" fill="#6277e6"/>
<rect x="538.88" y="537.00" width="5.24" height="7.09" fill="#6277e6"/>
<rect x="547.88" y="537.00" width="1.24" height="22.32" fill="#ecffff"/>
<rect x="545.88" y="537.00" width="5.24" height="9.71" fill="#ecffff"/>
<rect x="554.88" y="523.87" width="1.24" height="22.84" fill="#6277e6"/>
<rect x="552.88" y="525.71" width="5.24" height="21.00" fill="#6277e6"/>
<rect x="561.88" y="506.02" width="1.24" height="30.19" fill="#6277e6"/>
<rect x="559.88" y="512.06" width="5.24" height="14.96" fill="#6277e6"/>
<rect x="568.88" y="508.64" width="1.24" height="7.35" fill="#ecffff"/>
<rect x="566.88" y="511.79" width="5.24" height="3.41" fill="#ecffff"/>
<rect x="575.88" y="507.33" width="1.24" height="18.38" fill="#ecffff"/>
<rect x="573.88" y="513.89" width="5.24" height="9.19" fill="#ecffff"/>
<rect x="582.88" y="517.83" width="1.24" height="11.03" fill="#6277e6"/>
<rect x="580.88" y="521.07" width="5.24" height="1.40" fill="#6277e6"/>
<rect x="589.88" y="502.87" width="1.24" height="22.05" fill="#6277e6"/>
<rect x="587.88" y="517.83" width="5.24" height="4.46" fill="#6277e6"/>
<rect x="596.88" y="482.91" width="1.24" height="48.04" fill="#6277e6"/>
<rect x="594.88" y="482.91" width="5.24" height="35.70" fill="#6277e6"/>
<rect x="602.88" y="456.14" width="1.24" height="27.57" fill="#6277e6"/>
<rect x="600.88" y="470.05" width="5.24" height="13.65" fill="#6277e6"/>
<rect x="609.88" y="450.10" width="1.24" height="23.10" fill="#6277e6"/>
<rect x="607.88" y="467.16" width="5.24" height="2.89" fill="#6277e6"/>
<rect x="616.88" y="460.07" width="1.24" height="16.54" fill="#6277e6"/>
<rect x="614.88" y="460.86" width="5.24" height="7.09" fill="#6277e6"/>
<rect x="623.88" y="459.03" width="1.24" height="28.88" fill="#ecffff"/>
<rect x="621.88" y="461.65" width="5.24" height="8.40" fill="#ecffff"/>
<rect x="630.88" y="445.37" width="1.24" height="29.40" fill="#6277e6"/>
<rect x="628.88" y="459.03" width="5.24" height="11.03" fill="#6277e6"/>
<rect x="637.88" y="430.15" width="1.24" height="42.79" fill="#6277e6"/>
<rect x="635.88" y="437.24" width="5.24" height="22.58" fill="#6277e6"/>
<rect x="644.88" y="420.96" width="1.24" height="27.04" fill="#ecffff"/>
<rect x="642.88" y="437.24" width="5.24" height="7.88" fill="#ecffff"/>
<rect x="651.88" y="417.02" width="1.24" height="32.82" fill="#6277e6"/>
<rect x="649.88" y="430.93" width="5.24" height="13.65" fill="#6277e6"/>
<rect x="658.88" y="417.02" width="1.24" height="43.84" fill="#ecffff"/>
<rect x="656.88" y="432.25" width="5.24" height="26.78" fill="#ecffff"/>
<rect x="665.88" y="451.94" width="1.24" height="14.96" fill="#ecffff"/>
<rect x="663.88" y="457.71" width="5.24" height="3.41" fill="#ecffff"/>
<rect x="672.88" y="427.00" width="1.24" height="35.97" fill="#6277e6"/>
<rect x="670.88" y="442.75" width="5.24" height="18.38" fill="#6277e6"/>
<rect x="679.88" y="432.25" width="1.24" height="25.47" fill="#ecffff"/>
<rect x="677.88" y="442.75" width="5.24" height="11.81" fill="#ecffff"/>
<rect x="686.88" y="424.90" width="1.24" height="43.84" fill="#6277e6"/>
<rect x="684.88" y="443.80" width="5.24" height="9.98" fill="#6277e6"/>
<rect x="693.88" y="426.21" width="1.24" height="38.59" fill="#ecffff"/>
<rect x="691.88" y="444.59" width="5.24" height="2.10" fill="#ecffff"/>
<rect x="700.88" y="421.75" width="1.24" height="43.06" fill="#ecffff"/>
<rect x="698.88" y="445.90" width="5.24" height="6.04" fill="#ecffff"/>
<rect x="707.88" y="389.45" width="1.24" height="66.42" fill="#6277e6"/>
<rect x="705.88" y="397.33" width="5.24" height="54.61" fill="#6277e6"/>
<rect x="714.88" y="363.99" width="1.24" height="38.59" fill="#6277e6"/>
<rect x="712.88" y="382.89" width="5.24" height="14.96" fill="#6277e6"/>
<rect x="721.88" y="316.73" width="1.24" height="66.95" fill="#6277e6"/>
<rect x="719.88" y="333.80" width="5.24" height="49.88" fill="#6277e6"/>
<rect x="728.88" y="312.01" width="1.24" height="55.92" fill="#ecffff"/>
<rect x="726.88" y="333.80" width="5.24" height="34.13" fill="#ecffff"/>
<rect x="734.88" y="357.42" width="1.24" height="33.34" fill="#ecffff"/>
<rect x="732.88" y="367.14" width="5.24" height="15.75" fill="#ecffff"/>
<rect x="741.88" y="363.20" width="1.24" height="42.53" fill="#ecffff"/>
<rect x="739.88" y="382.10" width="5.24" height="15.75" fill="#ecffff"/>
<rect x="748.88" y="365.83" width="1.24" height="42.01" fill="#6277e6"/>
<rect x="746.88" y="365.83" width="5.24" height="32.29" fill="#6277e6"/>
<rect x="755.88" y="344.82" width="1.24" height="33.34" fill="#6277e6"/>
<rect x="753.88" y="344.82" width="5.24" height="22.32" fill="#6277e6"/>
<rect x="762.88" y="293.10" width="1.24" height="51.72" fill="#6277e6"/>
<rect x="760.88" y="312.01" width="5.24" height="32.82" fill="#6277e6"/>
<rect x="769.88" y="303.34" width="1.24" height="42.79" fill="#ecffff"/>
<rect x="767.88" y="312.01" width="5.24" height="27.57" fill="#ecffff"/>
<rect x="776.88" y="308.07" width="1.24" height="45.94" fill="#6277e6"/>
<rect x="774.88" y="335.11" width="5.24" height="3.68" fill="#6277e6"/>
<rect x="783.88" y="335.11" width="1.24" height="37.81" fill="#ecffff"/>
<rect x="781.88" y="335.11" width="5.24" height="29.93" fill="#ecffff"/>
<rect x="790.88" y="361.10" width="1.24" height="28.88" fill="#ecffff"/>
<rect x="788.88" y="363.73" width="5.24" height="16.01" fill="#ecffff"/>
<rect x="797.88" y="339.05" width="1.24" height="51.72" fill="#6277e6"/>
<rect x="795.88" y="346.66" width="5.24" height="33.08" fill="#6277e6"/>
<rect x="804.88" y="326.97" width="1.24" height="28.88" fill="#6277e6"/>
<rect x="802.88" y="339.05" width="5.24" height="7.88" fill="#6277e6"/>
<rect x="811.88" y="336.95" width="1.24" height="38.07" fill="#ecffff"/>
<rect x="809.88" y="339.05" width="5.24" height="31.50" fill="#ecffff"/>
<rect x="818.88" y="333.80" width="1.24" height="45.94" fill="#6277e6"/>
<rect x="816.88" y="342.20" width="5.24" height="28.35" fill="#6277e6"/>
<rect x="825.88" y="327.23" width="1.24" height="40.69" fill="#ecffff"/>
<rect x="823.88" y="342.20" width="5.24" height="19.69" fill="#ecffff"/>
<rect x="832.88" y="316.30" width="1.24" height="48.57" fill="#6277e6"/>
<rect x="830.88" y="326.02" width="5.24" height="35.97" fill="#6277e6"/>
<rect x="839.88" y="308.43" width="1.24" height="41.22" fill="#6277e6"/>
<rect x="837.88" y="308.43" width="5.24" height="17.59" fill="#6277e6"/>
<rect x="846.88" y="260.91" width="1.24" height="49.36" fill="#6277e6"/>
<rect x="844.88" y="291.89" width="5.24" height="17.06" fill="#6277e6"/>
<rect x="853.88" y="293.20" width="1.24" height="68.78" fill="#ecffff"/>
<rect x="851.88" y="293.20" width="5.24" height="50.67" fill="#ecffff"/>
<rect x="860.88" y="308.95" width="1.24" height="38.07" fill="#6277e6"/>
<rect x="858.88" y="322.87" width="5.24" height="21.00" fill="#6277e6"/>
<rect x="866.88" y="270.88" width="1.24" height="59.07" fill="#6277e6"/>
<rect x="864.88" y="290.05" width="5.24" height="33.34" fill="#6277e6"/>
<rect x="873.88" y="272.20" width="1.24" height="52.51" fill="#6277e6"/>
<rect x="871.88" y="283.22" width="5.24" height="7.35" fill="#6277e6"/>
<rect x="880.88" y="224.15" width="1.24" height="62.48" fill="#6277e6"/>
<rect x="878.88" y="248.04" width="5.24" height="35.97" fill="#6277e6"/>
<rect x="887.88" y="243.32" width="1.24" height="23.10" fill="#ecffff"/>
<rect x="885.88" y="248.04" width="5.24" height="4.46" fill="#ecffff"/>
<rect x="894.88" y="249.88" width="1.24" height="43.84" fill="#ecffff"/>
<rect x="892.88" y="251.98" width="5.24" height="38.59" fill="#ecffff"/>
<rect x="901.88" y="255.13" width="1.24" height="58.55" fill="#ecffff"/>
<rect x="899.88" y="290.05" width="5.24" height="15.75" fill="#ecffff"/>
<rect x="908.88" y="302.39" width="1.24" height="24.42" fill="#ecffff"/>
<rect x="906.88" y="304.23" width="5.24" height="9.45" fill="#ecffff"/>
<rect x="915.88" y="312.10" width="1.24" height="67.73" fill="#ecffff"/>
<rect x="913.88" y="312.89" width="5.24" height="27.57" fill="#ecffff"/>
<rect x="922.88" y="332.58" width="1.24" height="59.60" fill="#ecffff"/>
<rect x="920.88" y="339.14" width="5.24" height="43.84" fill="#ecffff"/>
<rect x="929.88" y="339.14" width="1.24" height="46.47" fill="#6277e6"/>
<rect x="927.88" y="368.02" width="5.24" height="14.96" fill="#6277e6"/>
<rect x="936.88" y="263.80" width="1.24" height="104.23" fill="#6277e6"/>
<rect x="934.88" y="276.92" width="5.24" height="91.10" fill="#6277e6"/>
<rect x="943.88" y="270.10" width="1.24" height="42.01" fill="#ecffff"/>
<rect x="941.88" y="276.92" width="5.24" height="4.99" fill="#ecffff"/>
<rect x="950.88" y="270.10" width="1.24" height="40.17" fill="#ecffff"/>
<rect x="948.88" y="280.86" width="5.24" height="20.22" fill="#ecffff"/>
<rect x="957.88" y="290.17" width="1.24" height="51.46" fill="#ecffff"/>
<rect x="955.88" y="299.62" width="5.24" height="29.40" fill="#ecffff"/>
<rect x="964.88" y="286.23" width="1.24" height="52.51" fill="#6277e6"/>
<rect x="962.88" y="304.09" width="5.24" height="24.94" fill="#6277e6"/>
<rect x="971.88" y="245.01" width="1.24" height="63.53" fill="#6277e6"/>
<rect x="969.88" y="250.79" width="5.24" height="54.61" fill="#6277e6"/>
<rect x="978.88" y="241.08" width="1.24" height="82.70" fill="#ecffff"/>
<rect x="976.88" y="250.79" width="5.24" height="3.41" fill="#ecffff"/>
<rect x="985.88" y="173.60" width="1.24" height="163.30" fill="#6277e6"/>
<rect x="983.88" y="183.84" width="5.24" height="70.36" fill="#6277e6"/>
<rect x="992.88" y="179.38" width="1.24" height="88.47" fill="#ecffff"/>
<rect x="990.88" y="183.32" width="5.24" height="79.55" fill="#ecffff"/>
<rect x="999.88" y="189.36" width="1.24" height="105.54" fill="#6277e6"/>
<rect x="997.88" y="207.73" width="5.24" height="55.13" fill="#6277e6"/>
<rect x="1005.88" y="188.57" width="1.24" height="69.57" fill="#ecffff"/>
<rect x="1003.88" y="207.73" width="5.24" height="35.18" fill="#ecffff"/>
<rect x="1012.88" y="153.65" width="1.24" height="124.18" fill="#6277e6"/>
<rect x="1010.88" y="199.86" width="5.24" height="43.06" fill="#6277e6"/>
<rect x="1019.88" y="195.13" width="1.24" height="53.82" fill="#ecffff"/>
<rect x="1017.88" y="199.86" width="5.24" height="42.01" fill="#ecffff"/>
<rect x="1026.88" y="201.70" width="1.24" height="52.51" fill="#6277e6"/>
<rect x="1024.88" y="238.98" width="5.24" height="2.89" fill="#6277e6"/>
<rect x="1033.88" y="236.35" width="1.24" height="70.36" fill="#ecffff"/>
<rect x="1031.88" y="238.98" width="5.24" height="63.01" fill="#ecffff"/>
<rect x="1040.88" y="268.12" width="1.24" height="51.72" fill="#6277e6"/>
<rect x="1038.88" y="284.92" width="5.24" height="17.06" fill="#6277e6"/>
<rect x="1047.88" y="277.81" width="1.24" height="46.94" fill="#ecffff"/>
<rect x="1045.88" y="285.11" width="5.24" height="23.74" fill="#ecffff"/>
<rect x="1054.88" y="284.02" width="1.24" height="45.30" fill="#ecffff"/>
<rect x="1052.88" y="307.95" width="5.24" height="6.76" fill="#ecffff"/>
<rect x="1061.88" y="291.87" width="1.24" height="59.73" fill="#ecffff"/>
<rect x="1059.88" y="314.70" width="5.24" height="8.22" fill="#ecffff"/>
<rect x="1068.88" y="308.86" width="1.24" height="61.92" fill="#ecffff"/>
<rect x="1066.88" y="322.01" width="5.24" height="35.62" fill="#ecffff"/>
<rect x="1075.88" y="348.49" width="1.24" height="34.34" fill="#ecffff"/>
<rect x="1073.88" y="357.08" width="5.24" height="11.87" fill="#ecffff"/>
<rect x="1082.88" y="339.36" width="1.24" height="44.38" fill="#6277e6"/>
<rect x="1080.88" y="364.38" width="5.24" height="4.57" fill="#6277e6"/>
<rect x="1089.88" y="346.67" width="1.24" height="30.14" fill="#ecffff"/>
<rect x="1087.88" y="364.38" width="5.24" height="7.49" fill="#ecffff"/>
<rect x="1096.88" y="332.97" width="1.24" height="38.90" fill="#6277e6"/>
<rect x="1094.88" y="343.01" width="5.24" height="28.86" fill="#6277e6"/>
<rect x="1103.88" y="333.33" width="1.24" height="24.29" fill="#ecffff"/>
<rect x="1101.88" y="343.01" width="5.24" height="7.85" fill="#ecffff"/>
<rect x="1110.88" y="332.05" width="1.24" height="31.96" fill="#6277e6"/>
<rect x="1108.88" y="347.21" width="5.24" height="3.65" fill="#6277e6"/>
<rect x="1117.88" y="346.67" width="1.24" height="69.04" fill="#ecffff"/>
<rect x="1115.88" y="346.67" width="5.24" height="35.07" fill="#ecffff"/>
<rect x="1124.88" y="312.51" width="1.24" height="74.89" fill="#6277e6"/>
<rect x="1122.88" y="334.79" width="5.24" height="46.94" fill="#6277e6"/>
<rect x="1131.88" y="320.18" width="1.24" height="34.70" fill="#ecffff"/>
<rect x="1129.88" y="334.79" width="5.24" height="11.51" fill="#ecffff"/>
</g>
<rect x="722.4" y="386.55" width="583.2" height="17.95" fill="none" stroke="#85878f" stroke-width="1.15"/>
<line x1="957.8" y1="67.45" x2="1499.0" y2="67.45" stroke="#e62e5c" stroke-width="1.25" stroke-dasharray="5 6" opacity="1"/>
<line x1="715.0" y1="271.60" x2="1499.0" y2="271.60" stroke="#ffffff" stroke-width="1.36" stroke-dasharray="5 6" opacity="1"/>
<line x1="722.0" y1="332.50" x2="1499.0" y2="332.50" stroke="#ffffff" stroke-width="1.36" stroke-dasharray="5 6" opacity="1"/>
<line x1="1305.9" y1="386.50" x2="1499.0" y2="386.50" stroke="#909198" stroke-width="1.25" stroke-dasharray="5 6" opacity="1"/>
<line x1="1151.9" y1="405.60" x2="1499.0" y2="405.60" stroke="#909198" stroke-width="1.25" stroke-dasharray="5 6" opacity="1"/>
<line x1="10.3" y1="439.50" x2="1499.0" y2="439.50" stroke="#43b37a" stroke-width="1.3" stroke-dasharray="5 6" opacity="1"/>
<line x1="138.0" y1="461.50" x2="1499.0" y2="461.50" stroke="#ffffff" stroke-width="1.36" stroke-dasharray="5 6" opacity="1"/>
<line x1="10.3" y1="559.50" x2="1499.0" y2="559.50" stroke="#ffffff" stroke-width="1.36" stroke-dasharray="5 6" opacity="1"/>
<line x1="10.3" y1="597.45" x2="1499.0" y2="597.45" stroke="#ffffff" stroke-width="1.36" stroke-dasharray="5 6" opacity="1"/>
<line x1="11.0" y1="346.45" x2="1424.0" y2="346.45" stroke="#ffffff" stroke-width="1.2" stroke-dasharray="1.2 1.8" opacity="1"/>
<line x1="515.9" y1="579.9" x2="1255.6" y2="240.6" stroke="#c6bf58" stroke-width="1.1" stroke-dasharray="1.2 1.9" opacity="1"/>
<line x1="1014.3" y1="157.0" x2="1117.3" y2="436.0" stroke="#ad3049" stroke-width="1.2" stroke-dasharray="1.3 2.1" opacity="1"/>
<line x1="229.6" y1="449.1" x2="486.0" y2="647.0" stroke="#6c4a4a" stroke-width="1.1" stroke-dasharray="1.1 2" opacity="1"/>
<line x1="10.5" y1="608.5" x2="155.0" y2="645.5" stroke="#684446" stroke-width="1.1" stroke-dasharray="1.1 2" opacity="1"/>
<line x1="159.2" y1="464.9" x2="207.4" y2="539.3" stroke="#b2b54c" stroke-width="1.15" stroke-dasharray="1.2 2" opacity="1"/>
<line x1="151.6" y1="509.2" x2="207.4" y2="539.3" stroke="#b2b54c" stroke-width="1.15" stroke-dasharray="1.2 2" opacity="1"/>
<circle cx="930.45" cy="386.3" r="19.4" fill="rgba(8,10,18,0.17)" stroke="#d3304f" stroke-width="1.2"/>
<circle cx="1118.5" cy="380.5" r="20.4" fill="rgba(8,10,18,0.17)" stroke="#d3304f" stroke-width="1.2"/>
<text x="1491.6" y="454.3" font-size="12" fill="#5a9158" text-anchor="end">Valhalla</text>
<rect x="1423.9" y="338.9" width="78" height="14.9" rx="2.5" fill="#ffffff"/>
<text x="1427.7" y="349.9" font-size="9.7" fill="#131722" stroke="#131722" stroke-width="0.25" textLength="66.6" lengthAdjust="spacingAndGlyphs">POPCATUSDT</text>
</g>
<text x="18.6" y="47.0" font-size="12.3" fill="#e3e5ec" stroke="#e3e5ec" stroke-width="0.3" textLength="45.7" lengthAdjust="spacingAndGlyphs">POPCAT</text>
<text x="77.0" y="47.0" font-size="12.3" fill="#e3e5ec" stroke="#e3e5ec" stroke-width="0.3" textLength="47.2" lengthAdjust="spacingAndGlyphs">TETHER,</text>
<text x="129.2" y="47.0" font-size="12.3" fill="#e3e5ec" stroke="#e3e5ec" stroke-width="0.3" textLength="15.7" lengthAdjust="spacingAndGlyphs">1D,</text>
<text x="149.9" y="47.0" font-size="12.3" fill="#e3e5ec" stroke="#e3e5ec" stroke-width="0.3" textLength="44.6" lengthAdjust="spacingAndGlyphs">COINEX</text>
<text x="202.0" y="47.0" font-size="12.3" fill="#e3e5ec" stroke="#e3e5ec" stroke-width="0.3" textLength="45.5" lengthAdjust="spacingAndGlyphs">O1.3921</text>
<text x="254.6" y="47.0" font-size="12.3" fill="#e3e5ec" stroke="#e3e5ec" stroke-width="0.3" textLength="44.6" lengthAdjust="spacingAndGlyphs">H1.4512</text>
<text x="307.2" y="47.0" font-size="12.3" fill="#e3e5ec" stroke="#e3e5ec" stroke-width="0.3" textLength="42.2" lengthAdjust="spacingAndGlyphs">L1.3193</text>
<text x="357.3" y="47.0" font-size="12.3" fill="#e3e5ec" stroke="#e3e5ec" stroke-width="0.3" textLength="43.1" lengthAdjust="spacingAndGlyphs">C1.3517</text>
<text x="408.5" y="47.0" font-size="12.3" fill="#e3e5ec" stroke="#e3e5ec" stroke-width="0.3" textLength="47.1" lengthAdjust="spacingAndGlyphs">−0.0404</text>
<text x="460.6" y="47.0" font-size="12.3" fill="#e3e5ec" stroke="#e3e5ec" stroke-width="0.3" textLength="51.3" lengthAdjust="spacingAndGlyphs">(−2.90%)</text>
<text x="69.4" y="47" font-size="12.3" fill="#e3e5ec">/</text>
<g clip-path="url(#cRsi)">
<rect x="11" y="683.4" width="1488.5" height="124.2" fill="#1d1d32"/>
<line x1="10.3" y1="683.40" x2="1499.0" y2="683.40" stroke="#7f7e9a" stroke-width="1.0" stroke-dasharray="5 6" opacity="1"/>
<line x1="10.3" y1="745.60" x2="1499.0" y2="745.60" stroke="#7f7e9a" stroke-width="1.0" stroke-dasharray="5 6" opacity="1"/>
<line x1="10.3" y1="807.60" x2="1499.0" y2="807.60" stroke="#7f7e9a" stroke-width="1.0" stroke-dasharray="5 6" opacity="1"/>
<clipPath id="cOB"><rect x="11" y="648" width="1488" height="35.4"/></clipPath>
<linearGradient id="gOB" gradientUnits="userSpaceOnUse" x1="0" y1="648" x2="0" y2="683.4"><stop offset="0" stop-color="#6f9478" stop-opacity="0.34"/><stop offset="1" stop-color="#6f9478" stop-opacity="0"/></linearGradient>
<polygon clip-path="url(#cOB)" fill="url(#gOB)" points="11.0,683.4 13.5,709.4 20.5,687.7 27.5,682.3 34.5,679.0 41.5,672.2 48.5,698.9 55.5,688.1 61.5,736.2 68.5,749.8 75.5,730.0 82.5,735.2 89.5,756.0 96.5,748.8 103.5,731.7 110.5,739.5 117.5,745.9 124.5,741.6 131.5,733.3 138.5,712.5 145.5,690.0 152.5,681.9 159.5,700.9 166.5,703.8 173.5,682.3 180.5,678.0 187.5,678.4 194.5,708.1 200.5,712.0 207.5,722.6 214.5,716.4 221.5,699.9 228.5,723.6 235.5,732.3 242.5,741.4 249.5,744.0 256.5,755.6 263.5,745.5 270.5,766.9 277.5,779.9 284.5,781.8 291.5,794.4 298.5,785.1 305.5,766.3 312.5,743.0 319.5,745.9 326.5,753.7 332.5,759.5 339.5,755.6 346.5,754.6 353.5,759.5 360.5,767.6 367.5,778.5 374.5,777.4 381.5,782.4 388.5,774.6 395.5,774.1 402.5,771.5 409.5,770.2 416.5,704.2 423.5,702.2 430.5,701.3 437.5,717.8 444.5,724.2 451.5,728.1 458.5,730.0 464.5,745.9 471.5,753.7 478.5,760.5 485.5,741.6 492.5,757.2 499.5,743.6 506.5,757.9 513.5,766.3 520.5,766.9 527.5,754.6 534.5,736.2 541.5,731.4 548.5,739.7 555.5,722.6 562.5,711.6 569.5,713.5 576.5,723.2 583.5,722.6 590.5,718.7 597.5,691.6 603.5,683.8 610.5,682.5 617.5,679.0 624.5,691.6 631.5,683.8 638.5,671.8 645.5,681.5 652.5,674.7 659.5,708.7 666.5,711.6 673.5,699.7 680.5,711.6 687.5,705.2 694.5,707.5 701.5,713.3 708.5,679.0 715.5,671.8 722.5,654.3 729.5,688.7 735.5,701.3 742.5,713.3 749.5,697.4 756.5,688.7 763.5,678.0 770.5,699.3 777.5,697.4 784.5,719.7 791.5,729.4 798.5,712.9 805.5,710.0 812.5,730.4 819.5,717.8 826.5,729.4 833.5,712.0 840.5,705.2 847.5,700.3 854.5,731.0 861.5,722.0 867.5,708.7 874.5,706.1 881.5,693.9 888.5,697.0 895.5,719.7 902.5,728.4 909.5,734.3 916.5,747.9 923.5,767.6 930.5,760.5 937.5,720.3 944.5,721.3 951.5,732.3 958.5,745.5 965.5,734.7 972.5,714.5 979.5,714.5 986.5,694.1 993.5,729.4 1000.5,713.9 1006.5,726.5 1013.5,715.4 1020.5,730.4 1027.5,730.4 1034.5,751.7 1041.5,746.5 1048.5,754.3 1055.5,756.2 1062.5,759.1 1069.5,771.1 1076.5,774.6 1083.5,773.1 1090.5,775.4 1097.5,760.9 1104.5,763.0 1111.5,761.4 1118.5,776.6 1125.5,752.1 1132.5,756.6 1132.5,683.4"/>
<polyline fill="none" stroke="#7664c2" stroke-width="1.0" stroke-linejoin="round" points="11.0,709.4 13.5,709.4 20.5,687.7 27.5,682.3 34.5,679.0 41.5,672.2 48.5,698.9 55.5,688.1 61.5,736.2 68.5,749.8 75.5,730.0 82.5,735.2 89.5,756.0 96.5,748.8 103.5,731.7 110.5,739.5 117.5,745.9 124.5,741.6 131.5,733.3 138.5,712.5 145.5,690.0 152.5,681.9 159.5,700.9 166.5,703.8 173.5,682.3 180.5,678.0 187.5,678.4 194.5,708.1 200.5,712.0 207.5,722.6 214.5,716.4 221.5,699.9 228.5,723.6 235.5,732.3 242.5,741.4 249.5,744.0 256.5,755.6 263.5,745.5 270.5,766.9 277.5,779.9 284.5,781.8 291.5,794.4 298.5,785.1 305.5,766.3 312.5,743.0 319.5,745.9 326.5,753.7 332.5,759.5 339.5,755.6 346.5,754.6 353.5,759.5 360.5,767.6 367.5,778.5 374.5,777.4 381.5,782.4 388.5,774.6 395.5,774.1 402.5,771.5 409.5,770.2 416.5,704.2 423.5,702.2 430.5,701.3 437.5,717.8 444.5,724.2 451.5,728.1 458.5,730.0 464.5,745.9 471.5,753.7 478.5,760.5 485.5,741.6 492.5,757.2 499.5,743.6 506.5,757.9 513.5,766.3 520.5,766.9 527.5,754.6 534.5,736.2 541.5,731.4 548.5,739.7 555.5,722.6 562.5,711.6 569.5,713.5 576.5,723.2 583.5,722.6 590.5,718.7 597.5,691.6 603.5,683.8 610.5,682.5 617.5,679.0 624.5,691.6 631.5,683.8 638.5,671.8 645.5,681.5 652.5,674.7 659.5,708.7 666.5,711.6 673.5,699.7 680.5,711.6 687.5,705.2 694.5,707.5 701.5,713.3 708.5,679.0 715.5,671.8 722.5,654.3 729.5,688.7 735.5,701.3 742.5,713.3 749.5,697.4 756.5,688.7 763.5,678.0 770.5,699.3 777.5,697.4 784.5,719.7 791.5,729.4 798.5,712.9 805.5,710.0 812.5,730.4 819.5,717.8 826.5,729.4 833.5,712.0 840.5,705.2 847.5,700.3 854.5,731.0 861.5,722.0 867.5,708.7 874.5,706.1 881.5,693.9 888.5,697.0 895.5,719.7 902.5,728.4 909.5,734.3 916.5,747.9 923.5,767.6 930.5,760.5 937.5,720.3 944.5,721.3 951.5,732.3 958.5,745.5 965.5,734.7 972.5,714.5 979.5,714.5 986.5,694.1 993.5,729.4 1000.5,713.9 1006.5,726.5 1013.5,715.4 1020.5,730.4 1027.5,730.4 1034.5,751.7 1041.5,746.5 1048.5,754.3 1055.5,756.2 1062.5,759.1 1069.5,771.1 1076.5,774.6 1083.5,773.1 1090.5,775.4 1097.5,760.9 1104.5,763.0 1111.5,761.4 1118.5,776.6 1125.5,752.1 1132.5,756.6"/>
<polyline fill="none" stroke="#d4d242" stroke-width="1.2" stroke-linejoin="round" points="10.7,768.2 20.4,757.6 34.0,744.0 47.9,730.4 55.3,723.0 62.1,720.1 67.9,718.7 74.7,715.3 82.1,712.9 88.9,712.3 96.1,713.3 102.9,714.9 110.0,717.2 117.0,721.7 124.2,725.5 131.0,729.4 137.8,732.3 145.2,731.7 152.0,731.2 159.1,728.4 165.9,725.5 173.1,721.7 179.9,717.8 186.9,712.0 193.7,709.0 199.9,707.5 207.1,706.1 214.1,704.2 220.8,701.3 228.0,700.9 234.8,701.9 242.0,705.5 248.8,710.0 255.8,713.9 263.0,717.2 269.7,722.6 276.5,729.4 283.7,737.2 290.0,743.0 298.5,749.8 305.5,753.3 312.3,755.2 319.3,757.9 326.3,760.5 333.3,762.4 340.3,763.4 347.2,763.8 354.0,764.3 361.0,765.7 368.0,766.3 375.0,766.5 382.0,766.3 389.0,764.7 395.8,763.8 402.7,764.7 409.7,766.7 416.7,763.8 423.7,759.5 430.5,755.6 437.5,753.1 444.5,750.8 451.5,748.4 458.4,745.9 465.2,743.0 472.2,741.4 479.2,739.7 486.2,737.8 493.2,736.2 500.2,734.3 507.0,733.3 513.9,737.8 520.9,742.4 527.9,745.9 534.9,747.5 541.9,748.4 548.7,749.2 555.7,748.8 562.7,746.3 569.6,743.4 576.4,740.5 580.0,739.7 590.5,735.8 597.5,732.7 604.3,726.5 611.2,720.7 618.2,714.5 625.2,710.0 632.2,706.1 639.2,702.2 646.0,698.4 653.0,695.1 660.0,695.1 666.9,694.5 673.9,692.9 680.7,692.2 687.7,691.2 694.7,692.2 701.7,694.5 708.7,694.5 715.5,693.5 722.4,691.2 729.4,691.2 736.4,693.5 743.4,695.8 750.4,697.4 757.2,695.8 764.2,693.5 771.2,693.5 778.1,692.5 785.1,693.9 791.9,695.1 798.9,695.5 805.9,697.8 812.9,701.9 819.9,706.1 826.7,709.0 833.6,710.0 840.6,709.4 847.6,709.4 854.6,712.5 861.6,715.8 868.4,716.8 875.4,716.4 882.4,714.3 889.2,712.5 896.2,713.5 903.2,714.3 910.2,715.3 917.2,717.8 924.1,720.7 930.9,723.6 937.9,724.6 944.9,725.5 951.9,726.5 958.9,728.1 965.7,729.4 972.7,730.4 979.6,731.4 986.6,731.4 993.6,731.7 1000.4,731.0 1007.4,730.0 1014.4,727.1 1021.4,724.6 1028.4,723.0 1035.1,725.5 1042.1,727.5 1049.1,728.8 1056.1,729.8 1063.1,731.7 1070.1,735.6 1076.9,740.1 1083.9,745.5 1090.8,749.2 1097.8,752.7 1104.8,755.6 1111.6,758.9 1118.6,761.4 1125.6,762.4 1132.6,763.4"/>
<circle cx="923.55" cy="764.4" r="17.6" fill="none" stroke="#ad8c72" stroke-width="1.0"/>
<circle cx="1118.4" cy="777.7" r="18.4" fill="none" stroke="#ad8c72" stroke-width="1.0"/>
<rect x="1423.1" y="764" width="77" height="14.9" rx="2.5" fill="#f3ee3c"/>
<text x="1426.6" y="775.2" font-size="10" fill="#131722" textLength="67.9" lengthAdjust="spacingAndGlyphs">RSI-based MA</text>
<rect x="1476.1" y="750.2" width="24" height="13.9" rx="2.5" fill="#7e5fc8"/>
<text x="1479.7" y="760.8" font-size="10" fill="#ffffff" textLength="14.8" lengthAdjust="spacingAndGlyphs">RSI</text>
</g>
<text x="18.7" y="667.8" font-size="12.3" fill="#e3e5ec" stroke="#e3e5ec" stroke-width="0.3" textLength="79.8" lengthAdjust="spacingAndGlyphs">RSI (14, close)</text>
<text x="106.4" y="667.8" font-size="12.3" fill="#7563c2" stroke="#7563c2" stroke-width="0.3" textLength="30.3" lengthAdjust="spacingAndGlyphs">46.31</text>
<text x="144.0" y="667.8" font-size="12.3" fill="#e6e83e" stroke="#e6e83e" stroke-width="0.3" textLength="30.8" lengthAdjust="spacingAndGlyphs" font-weight="bold">44.31</text>
<circle cx="185.9" cy="664.4" r="2.8" fill="none" stroke="#dfe1e8" stroke-width="1.15"/>
<line x1="183.0" y1="668.4" x2="188.8" y2="660.4" stroke="#dfe1e8" stroke-width="1.1"/>
<circle cx="201.4" cy="664.4" r="2.8" fill="none" stroke="#dfe1e8" stroke-width="1.15"/>
<line x1="198.5" y1="668.4" x2="204.3" y2="660.4" stroke="#dfe1e8" stroke-width="1.1"/>
<rect x="11" y="646.7" width="1550" height="1.35" fill="#e4e6ec"/>
<rect x="11" y="814.9" width="1550" height="1" fill="#8f929b"/>
<rect x="1498.95" y="28" width="1.2" height="813" fill="#8f929b"/>
<text x="1507.8" y="629.05" font-size="10" fill="#b8bbc4" stroke="#b8bbc4" stroke-width="0.15" textLength="34.0" lengthAdjust="spacingAndGlyphs">0.3000</text>
<text x="1507.8" y="575.96" font-size="10" fill="#b8bbc4" stroke="#b8bbc4" stroke-width="0.15" textLength="34.0" lengthAdjust="spacingAndGlyphs">0.5000</text>
<text x="1507.8" y="549.41" font-size="10" fill="#b8bbc4" stroke="#b8bbc4" stroke-width="0.15" textLength="34.0" lengthAdjust="spacingAndGlyphs">0.6000</text>
<text x="1507.8" y="522.87" font-size="10" fill="#b8bbc4" stroke="#b8bbc4" stroke-width="0.15" textLength="34.0" lengthAdjust="spacingAndGlyphs">0.7000</text>
<text x="1507.8" y="496.32" font-size="10" fill="#b8bbc4" stroke="#b8bbc4" stroke-width="0.15" textLength="34.0" lengthAdjust="spacingAndGlyphs">0.8000</text>
<text x="1507.8" y="416.69" font-size="10" fill="#b8bbc4" stroke="#b8bbc4" stroke-width="0.15" textLength="34.0" lengthAdjust="spacingAndGlyphs">1.1000</text>
<text x="1507.8" y="310.51" font-size="10" fill="#b8bbc4" stroke="#b8bbc4" stroke-width="0.15" textLength="34.0" lengthAdjust="spacingAndGlyphs">1.5000</text>
<text x="1507.8" y="283.96" font-size="10" fill="#b8bbc4" stroke="#b8bbc4" stroke-width="0.15" textLength="34.0" lengthAdjust="spacingAndGlyphs">1.6000</text>
<text x="1507.8" y="257.42" font-size="10" fill="#b8bbc4" stroke="#b8bbc4" stroke-width="0.15" textLength="34.0" lengthAdjust="spacingAndGlyphs">1.7000</text>
<text x="1507.8" y="230.87" font-size="10" fill="#b8bbc4" stroke="#b8bbc4" stroke-width="0.15" textLength="34.0" lengthAdjust="spacingAndGlyphs">1.8000</text>
<text x="1507.8" y="204.33" font-size="10" fill="#b8bbc4" stroke="#b8bbc4" stroke-width="0.15" textLength="34.0" lengthAdjust="spacingAndGlyphs">1.9000</text>
<text x="1507.8" y="177.78" font-size="10" fill="#b8bbc4" stroke="#b8bbc4" stroke-width="0.15" textLength="34.0" lengthAdjust="spacingAndGlyphs">2.0000</text>
<text x="1507.8" y="151.24" font-size="10" fill="#b8bbc4" stroke="#b8bbc4" stroke-width="0.15" textLength="34.0" lengthAdjust="spacingAndGlyphs">2.1000</text>
<text x="1507.8" y="124.69" font-size="10" fill="#b8bbc4" stroke="#b8bbc4" stroke-width="0.15" textLength="34.0" lengthAdjust="spacingAndGlyphs">2.2000</text>
<text x="1507.8" y="98.15" font-size="10" fill="#b8bbc4" stroke="#b8bbc4" stroke-width="0.15" textLength="34.0" lengthAdjust="spacingAndGlyphs">2.3000</text>
<text x="1507.8" y="656.15" font-size="10" fill="#b8bbc4" stroke="#b8bbc4" stroke-width="0.15" textLength="27.8" lengthAdjust="spacingAndGlyphs">80.00</text>
<text x="1507.8" y="687.15" font-size="10" fill="#b8bbc4" stroke="#b8bbc4" stroke-width="0.15" textLength="27.8" lengthAdjust="spacingAndGlyphs">70.00</text>
<text x="1507.8" y="718.35" font-size="10" fill="#b8bbc4" stroke="#b8bbc4" stroke-width="0.15" textLength="27.8" lengthAdjust="spacingAndGlyphs">60.00</text>
<text x="1507.8" y="749.35" font-size="10" fill="#b8bbc4" stroke="#b8bbc4" stroke-width="0.15" textLength="27.8" lengthAdjust="spacingAndGlyphs">50.00</text>
<text x="1507.8" y="780.55" font-size="10" fill="#b8bbc4" stroke="#b8bbc4" stroke-width="0.15" textLength="27.8" lengthAdjust="spacingAndGlyphs">40.00</text>
<text x="1507.8" y="811.35" font-size="10" fill="#b8bbc4" stroke="#b8bbc4" stroke-width="0.15" textLength="27.8" lengthAdjust="spacingAndGlyphs">30.00</text>
<path d="M1499.6 60.70 h45.8 a2.5 2.5 0 0 1 2.5 2.5 v9.60 a2.5 2.5 0 0 1 -2.5 2.5 h-45.8 z" fill="#f23645"/>
<text x="1507.8" y="71.55" font-size="10" fill="#ffffff" stroke="#ffffff" stroke-width="0.2" textLength="34" lengthAdjust="spacingAndGlyphs">2.4032</text>
<path d="M1499.6 264.10 h45.8 a2.5 2.5 0 0 1 2.5 2.5 v9.60 a2.5 2.5 0 0 1 -2.5 2.5 h-45.8 z" fill="#ffffff"/>
<text x="1507.8" y="274.95" font-size="10" fill="#131722" stroke="#131722" stroke-width="0.2" textLength="34" lengthAdjust="spacingAndGlyphs">1.6338</text>
<path d="M1499.6 324.90 h45.8 a2.5 2.5 0 0 1 2.5 2.5 v9.60 a2.5 2.5 0 0 1 -2.5 2.5 h-45.8 z" fill="#ffffff"/>
<text x="1507.8" y="335.75" font-size="10" fill="#131722" stroke="#131722" stroke-width="0.2" textLength="34" lengthAdjust="spacingAndGlyphs">1.4065</text>
<path d="M1499.6 379.10 h45.8 a2.5 2.5 0 0 1 2.5 2.5 v9.60 a2.5 2.5 0 0 1 -2.5 2.5 h-45.8 z" fill="#787b86"/>
<text x="1507.8" y="389.95" font-size="10" fill="#ffffff" stroke="#ffffff" stroke-width="0.2" textLength="34" lengthAdjust="spacingAndGlyphs">1.1996</text>
<path d="M1499.6 398.10 h45.8 a2.5 2.5 0 0 1 2.5 2.5 v9.60 a2.5 2.5 0 0 1 -2.5 2.5 h-45.8 z" fill="#787b86"/>
<text x="1507.8" y="408.95" font-size="10" fill="#ffffff" stroke="#ffffff" stroke-width="0.2" textLength="34" lengthAdjust="spacingAndGlyphs">1.1317</text>
<path d="M1499.6 432.30 h45.8 a2.5 2.5 0 0 1 2.5 2.5 v9.60 a2.5 2.5 0 0 1 -2.5 2.5 h-45.8 z" fill="#4caf50"/>
<text x="1507.8" y="443.15" font-size="10" fill="#ffffff" stroke="#ffffff" stroke-width="0.2" textLength="34" lengthAdjust="spacingAndGlyphs">1.0005</text>
<path d="M1499.6 454.20 h45.8 a2.5 2.5 0 0 1 2.5 2.5 v9.60 a2.5 2.5 0 0 1 -2.5 2.5 h-45.8 z" fill="#ffffff"/>
<text x="1507.8" y="465.05" font-size="10" fill="#131722" stroke="#131722" stroke-width="0.2" textLength="34" lengthAdjust="spacingAndGlyphs">0.9203</text>
<path d="M1499.6 552.10 h45.8 a2.5 2.5 0 0 1 2.5 2.5 v9.60 a2.5 2.5 0 0 1 -2.5 2.5 h-45.8 z" fill="#ffffff"/>
<text x="1507.8" y="562.95" font-size="10" fill="#131722" stroke="#131722" stroke-width="0.2" textLength="34" lengthAdjust="spacingAndGlyphs">0.5479</text>
<path d="M1499.6 590.30 h45.8 a2.5 2.5 0 0 1 2.5 2.5 v9.60 a2.5 2.5 0 0 1 -2.5 2.5 h-45.8 z" fill="#ffffff"/>
<text x="1507.8" y="601.15" font-size="10" fill="#131722" stroke="#131722" stroke-width="0.2" textLength="34" lengthAdjust="spacingAndGlyphs">0.4042</text>
<path d="M1499.6 339.1 h54.9 a2.5 2.5 0 0 1 2.5 2.5 v22 a2.5 2.5 0 0 1 -2.5 2.5 h-54.9 z" fill="#ffffff"/>
<text x="1507.8" y="349.95" font-size="10" fill="#131722" textLength="34" lengthAdjust="spacingAndGlyphs">1.3517</text>
<text x="1507.8" y="362.25" font-size="10" fill="#50535e" textLength="43.6" lengthAdjust="spacingAndGlyphs">06:53:28</text>
<rect x="1499.6" y="750.2" width="41.4" height="13.9" rx="2.5" fill="#7e5fc8"/>
<rect x="1497" y="750.2" width="6" height="13.9" fill="#7e5fc8"/>
<text x="1507.4" y="760.75" font-size="10" fill="#ffffff" textLength="27.7" lengthAdjust="spacingAndGlyphs">46.31</text>
<rect x="1499.6" y="764" width="41.4" height="14.9" rx="2.5" fill="#f3ee3c"/>
<rect x="1497" y="764" width="6" height="14.9" fill="#f3ee3c"/>
<text x="1507.4" y="775.15" font-size="10" fill="#131722" textLength="27.7" lengthAdjust="spacingAndGlyphs">44.31</text>
<rect x="1499" y="750.2" width="1" height="28.7" fill="#8f929b" opacity="0.5"/>
<rect x="1503" y="30.5" width="54.5" height="26.5" rx="4.5" fill="none" stroke="#2e323d" stroke-width="1.2"/>
<text x="1512.1" y="48.1" font-size="10.3" fill="#d1d4dc" stroke="#d1d4dc" stroke-width="0.35" textLength="26.8" lengthAdjust="spacingAndGlyphs">USDT</text>
<text x="47.9" y="832.2" font-size="10.9" fill="#b8bbc4" text-anchor="middle" letter-spacing="0.1">Jul</text>
<text x="144.9" y="832.2" font-size="10.9" fill="#b8bbc4" text-anchor="middle" letter-spacing="0.1">15</text>
<text x="262.9" y="832.2" font-size="10.9" fill="#b8bbc4" text-anchor="middle" letter-spacing="0.1">Aug</text>
<text x="338.9" y="832.2" font-size="10.9" fill="#b8bbc4" text-anchor="middle" letter-spacing="0.1">12</text>
<text x="477.9" y="832.2" font-size="10.9" fill="#b8bbc4" text-anchor="middle" letter-spacing="0.1">Sep</text>
<text x="582.9" y="832.2" font-size="10.9" fill="#b8bbc4" text-anchor="middle" letter-spacing="0.1">16</text>
<text x="686.9" y="832.2" font-size="10.9" fill="#b8bbc4" text-anchor="middle" letter-spacing="0.1">Oct</text>
<text x="776.9" y="832.2" font-size="10.9" fill="#b8bbc4" text-anchor="middle" letter-spacing="0.1">14</text>
<text x="901.9" y="832.2" font-size="10.9" fill="#b8bbc4" text-anchor="middle" letter-spacing="0.1">Nov</text>
<text x="1019.9" y="832.2" font-size="10.9" fill="#b8bbc4" text-anchor="middle" letter-spacing="0.1">18</text>
<text x="1110.9" y="832.2" font-size="10.9" fill="#b8bbc4" text-anchor="middle" letter-spacing="0.1">Dec</text>
<text x="1214.9" y="832.2" font-size="10.9" fill="#b8bbc4" text-anchor="middle" letter-spacing="0.1">16</text>
<text x="1312.6" y="832.2" font-size="10.9" fill="#e6e8ee" font-weight="bold" textLength="26.6" lengthAdjust="spacingAndGlyphs">2025</text>
<text x="1408.9" y="832.2" font-size="10.9" fill="#b8bbc4" text-anchor="middle" letter-spacing="0.1">13</text>
<g fill="#dcdee6">
<path d="M9.7 853.1 H17.9 V862.8 H13.7 V857.1 H9.7 Z"/>
<circle cx="20.8" cy="855.1" r="1.85"/>
<path d="M24.8 853.1 H29.4 L25.8 862.8 H21.4 Z"/>
</g>
<text x="33.6" y="863.8" font-size="12.8" fill="#dcdee6" stroke="#dcdee6" stroke-width="0.45" textLength="74" lengthAdjust="spacingAndGlyphs">TradingView</text>
</svg></body></html>
